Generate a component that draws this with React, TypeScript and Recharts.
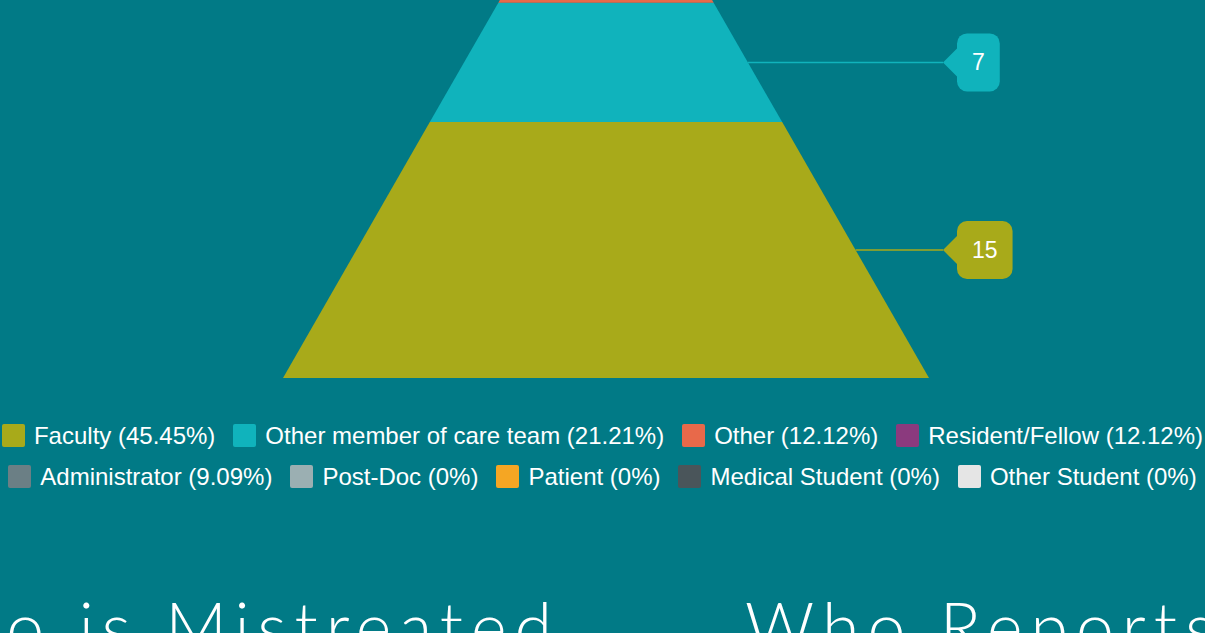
import { BarChart, Bar, XAxis, YAxis, Legend } from 'recharts';

const categories = [
  'Faculty',
  'Other member of care team',
  'Other',
  'Resident/Fellow',
  'Administrator',
  'Post-Doc',
  'Patient',
  'Medical Student',
  'Other Student',
];
const counts = [15, 7, 4, 4, 3, 0, 0, 0, 0];
const colors = ['#A8AA1A', '#10B3BC', '#E8694A', '#8B3A7E', '#6B7F85', '#9BAFB2', '#F5A623', '#4A555A', '#E5E5E5'];
const legendRows = [[0, 1, 2, 3], [4, 5, 6, 7, 8]];
const titles = ['Who is Mistreated', 'Who Reports'];

const BG = '#017A86';
const total = counts.reduce((a, b) => a + b, 0);
const pct = (v: number) => `${Number(((v / total) * 100).toFixed(2))}%`;

const data = [
  counts.reduce((row: Record<string, any>, v, i) => ({ ...row, [`k${i}`]: v }), { name: 'all' }),
];

const W = 1205;
const H = 700;
const margin = { top: 15, right: 276, bottom: 122, left: 283 };

const makeShape = (i: number) => (props: any) => {
  const { x, y, width, height, background } = props;
  if (!height || height <= 0) return <g />;
  const top = background?.y ?? margin.top;
  const bottom = top + (background?.height ?? H - margin.top - margin.bottom);
  const cx = x + width / 2;
  const half = width / 2;
  const hw = (yy: number) => ((yy - top) / (bottom - top)) * half;
  const y2 = y + height;
  const color = colors[i];
  const midY = y + height / 2;
  const edgeX = cx + hw(midY);
  const tipX = cx + half + 14;
  const label = String(counts[i]);
  const boxW = label.length * 0.556 * 23 + 30;
  const bx = tipX + 14;
  return (
    <g>
      <polygon
        points={`${cx - hw(y)},${y} ${cx + hw(y)},${y} ${cx + hw(y2)},${y2} ${cx - hw(y2)},${y2}`}
        fill={color}
      />
      <line x1={edgeX} y1={midY} x2={tipX} y2={midY} stroke={color} strokeWidth={1.5} />
      <path d={`M${tipX},${midY} L${bx},${midY - 14} L${bx},${midY + 14} Z`} fill={color} />
      <rect x={bx} y={midY - 29} width={boxW} height={58} rx={10} fill={color} />
      <text
        x={bx + boxW / 2}
        y={midY}
        textAnchor="middle"
        dominantBaseline="central"
        fill="#fff"
        fontSize={23}
        fontFamily="'Liberation Sans', Arial, sans-serif"
      >
        {label}
      </text>
    </g>
  );
};

const LegendContent = () => (
  <div style={{ fontFamily: "'Liberation Sans', Arial, sans-serif", fontSize: 24, color: '#fff' }}>
    {legendRows.map((row, r) => (
      <div key={r} style={{ display: 'flex', justifyContent: 'center', gap: 18, height: 41, alignItems: 'center' }}>
        {row.map((i) => (
          <div key={i} style={{ display: 'flex', alignItems: 'center', whiteSpace: 'nowrap' }}>
            <span style={{ width: 23, height: 23, background: colors[i], borderRadius: 2, marginRight: 9, display: 'inline-block' }} />
            <span>{`${categories[i]} (${pct(counts[i])})`}</span>
          </div>
        ))}
      </div>
    ))}
  </div>
);

const titleStyle = {
  position: 'absolute' as const,
  top: 592,
  fontFamily: 'Lato, sans-serif',
  fontWeight: 300,
  fontSize: 68,
  color: '#fff',
  whiteSpace: 'nowrap' as const,
  lineHeight: 1,
  letterSpacing: 8,
};

export default function App() {
  return (
    <div style={{ position: 'fixed', left: 0, top: 0, width: W, height: 633, overflow: 'hidden', background: BG }}>
      <div style={{ position: 'absolute', left: 0, top: -200 }}>
        <BarChart width={W} height={H} data={data} margin={margin} barCategoryGap={0} barGap={0}>
          <XAxis dataKey="name" hide />
          <YAxis hide domain={[0, total]} />
          <Legend
            verticalAlign="middle"
            content={<LegendContent />}
            wrapperStyle={{ top: 615, left: 0, width: W }}
          />
          {counts.map((_, i) => (
            <Bar
              key={i}
              dataKey={`k${i}`}
              stackId="p"
              fill={colors[i]}
              shape={makeShape(i)}
              isAnimationActive={false}
            />
          ))}
        </BarChart>
      </div>
      <div style={{ ...titleStyle, right: W - 560 }}>{titles[0]}</div>
      <div style={{ ...titleStyle, left: 745 }}>{titles[1]}</div>
    </div>
  );
}
